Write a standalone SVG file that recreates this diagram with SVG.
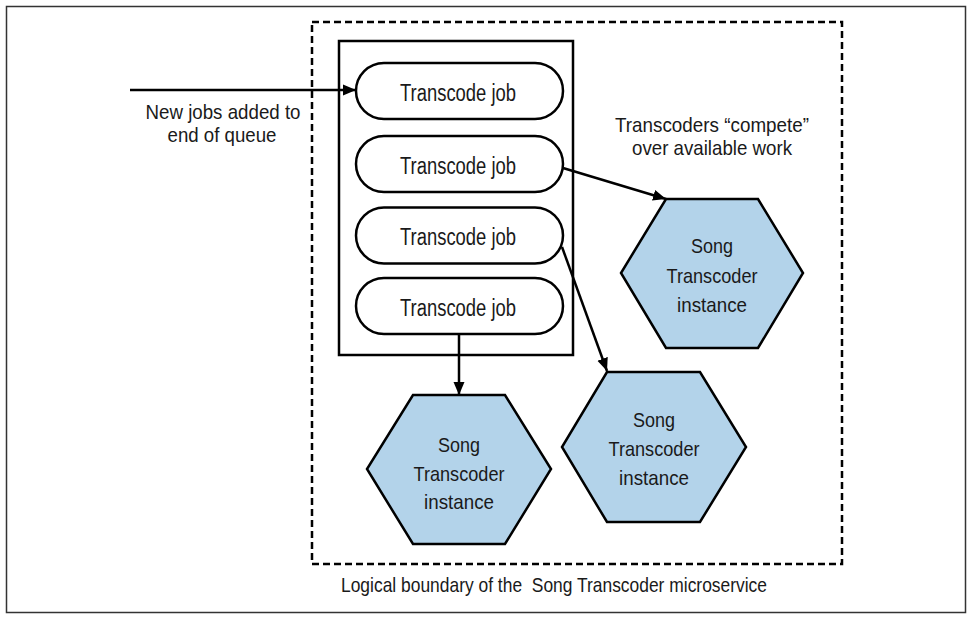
<svg xmlns="http://www.w3.org/2000/svg" width="972" height="620" viewBox="0 0 972 620">
<style>
  text { font-family: "Liberation Sans", Arial, sans-serif; fill: #1a1a1a; }
  .pill { fill: #ffffff; stroke: #000; stroke-width: 2.5; }
  .hex { fill: #b3d3ea; stroke: #000; stroke-width: 2.5; stroke-linejoin: miter; }
  .pt { font-size: 23px; text-anchor: middle; }
  .ht { font-size: 21px; text-anchor: middle; }
  .lbl { font-size: 21px; text-anchor: middle; }
  .conn { stroke: #000; stroke-width: 2.5; fill: none; marker-end: url(#arrow); }
</style>
<defs>
  <marker id="arrow" markerUnits="userSpaceOnUse" markerWidth="14" markerHeight="12" refX="13" refY="6" orient="auto">
    <path d="M0,0.5 L13,6 L0,11.5 Z" fill="#000"/>
  </marker>
</defs>
<rect width="972" height="620" fill="#ffffff"/>
<rect id="frame" x="6.5" y="6.5" width="959" height="606" fill="none" stroke="#333" stroke-width="1.5"/>

<g id="boundary">
  <rect x="312" y="22" width="530" height="542" fill="none" stroke="#000" stroke-width="2.5" stroke-dasharray="7,4"/>
  <text class="lbl" x="554" y="592" textLength="426" lengthAdjust="spacingAndGlyphs" xml:space="preserve">Logical boundary of the  Song Transcoder microservice</text>
</g>

<g id="queue">
  <rect x="339" y="41" width="234" height="314" fill="#fff" stroke="#000" stroke-width="2.5"/>
</g>

<g id="job1">
  <rect class="pill" x="356" y="63" width="207" height="56" rx="28"/>
  <text class="pt" x="458" y="100.5" textLength="116" lengthAdjust="spacingAndGlyphs">Transcode job</text>
</g>
<g id="job2">
  <rect class="pill" x="356" y="136" width="207" height="56" rx="28"/>
  <text class="pt" x="458" y="173.5" textLength="116" lengthAdjust="spacingAndGlyphs">Transcode job</text>
</g>
<g id="job3">
  <rect class="pill" x="356" y="207.5" width="207" height="56" rx="28"/>
  <text class="pt" x="458" y="245" textLength="116" lengthAdjust="spacingAndGlyphs">Transcode job</text>
</g>
<g id="job4">
  <rect class="pill" x="356" y="278" width="207" height="56" rx="28"/>
  <text class="pt" x="458" y="315.5" textLength="116" lengthAdjust="spacingAndGlyphs">Transcode job</text>
</g>

<g id="transcoder1">
  <polygon class="hex" points="666,199 758,199 803,273 758,348 666,348 621,273"/>
  <text class="ht" x="712" y="253" textLength="42" lengthAdjust="spacingAndGlyphs">Song</text>
  <text class="ht" x="712" y="283" textLength="91" lengthAdjust="spacingAndGlyphs">Transcoder</text>
  <text class="ht" x="712" y="312" textLength="70" lengthAdjust="spacingAndGlyphs">instance</text>
</g>
<g id="transcoder2">
  <polygon class="hex" points="607,372 700,372 746,447 700,522 607,522 562,447"/>
  <text class="ht" x="654" y="427" textLength="42" lengthAdjust="spacingAndGlyphs">Song</text>
  <text class="ht" x="654" y="456" textLength="91" lengthAdjust="spacingAndGlyphs">Transcoder</text>
  <text class="ht" x="654" y="484.5" textLength="70" lengthAdjust="spacingAndGlyphs">instance</text>
</g>
<g id="transcoder3">
  <polygon class="hex" points="413,395 505,395 551,469 505,544 413,544 367,469"/>
  <text class="ht" x="459" y="452" textLength="42" lengthAdjust="spacingAndGlyphs">Song</text>
  <text class="ht" x="459" y="480.5" textLength="91" lengthAdjust="spacingAndGlyphs">Transcoder</text>
  <text class="ht" x="459" y="508.5" textLength="70" lengthAdjust="spacingAndGlyphs">instance</text>
</g>

<g id="label-new-jobs">
  <text class="lbl" x="223" y="119" font-size="22" textLength="155" lengthAdjust="spacingAndGlyphs">New jobs added to</text>
  <text class="lbl" x="222" y="142" font-size="22" textLength="109" lengthAdjust="spacingAndGlyphs">end of queue</text>
</g>
<g id="label-compete">
  <text class="lbl" x="712" y="132" textLength="194" lengthAdjust="spacingAndGlyphs">Transcoders “compete”</text>
  <text class="lbl" x="712" y="154.5" textLength="160" lengthAdjust="spacingAndGlyphs">over available work</text>
</g>

<g id="connectors">
  <line class="conn" x1="130" y1="90" x2="356" y2="90"/>
  <line class="conn" x1="563" y1="168" x2="666" y2="199"/>
  <line class="conn" x1="562" y1="247" x2="607" y2="371"/>
  <line class="conn" x1="459" y1="334" x2="459" y2="395"/>
</g>
</svg>
